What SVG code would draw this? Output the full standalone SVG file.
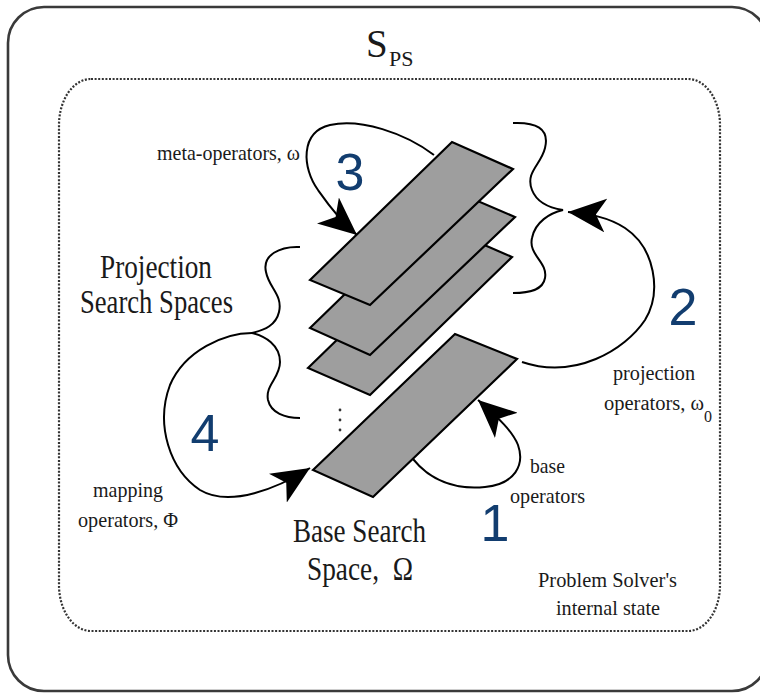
<svg xmlns="http://www.w3.org/2000/svg" width="760" height="694" viewBox="0 0 760 694">
  <defs>
    <style>
      .frame { fill: #ffffff; stroke: #3a3a3a; stroke-width: 2.6; }
      .state { fill: none; stroke: #333333; stroke-width: 2.2; stroke-dasharray: 2 1.6; }
      .plane { fill: #9e9e9e; stroke: #000000; stroke-width: 2.2; stroke-linejoin: miter; }
      .brace { fill: none; stroke: #000000; stroke-width: 2; }
      .arc { fill: none; stroke: #000000; stroke-width: 2; }
      .serif { font-family: "Liberation Serif", "Times New Roman", serif; fill: #1a1a1a; }
      .big { font-size: 33px; }
      .small { font-size: 22px; }
      .num { font-family: "Liberation Sans", Arial, sans-serif; font-size: 52px; fill: #123d6f; text-anchor: middle; }
    </style>
    <marker id="head" markerUnits="userSpaceOnUse" viewBox="0 0 38 34" refX="38" refY="17" markerWidth="38" markerHeight="34" orient="auto">
      <path d="M0,0 L38,17 L0,34 L10,17 Z" fill="#000000"/>
    </marker>
  </defs>

  <!-- outer boundary of the solver -->
  <g id="solver-frame">
    <rect class="frame" x="8" y="7" width="760" height="684" rx="36" ry="36"/>
    <text class="serif" x="366" y="57" font-size="39">S<tspan x="389" y="66" font-size="22">PS</tspan></text>
  </g>

  <!-- dotted internal state region -->
  <g id="internal-state">
    <rect class="state" x="59" y="79" width="661" height="552" rx="32" ry="46"/>
    <text class="serif small" x="538" y="587" textLength="139" lengthAdjust="spacingAndGlyphs">Problem Solver's</text>
    <text class="serif small" x="556" y="615" textLength="104" lengthAdjust="spacingAndGlyphs">internal state</text>
  </g>

  <!-- stacked projection search spaces -->
  <g id="projection-space-3">
    <polygon class="plane" points="308,368 450,230 512,257 370,395"/>
  </g>
  <g id="projection-space-2">
    <polygon class="plane" points="310,328 452,190 515,217 370,355"/>
  </g>
  <g id="projection-space-1">
    <polygon class="plane" points="310,280 452,142 513,169 370,305"/>
  </g>

  <!-- base search space -->
  <g id="base-space">
    <polygon class="plane" points="313,470 455,334 517,359 373,497"/>
    <circle cx="340" cy="410" r="1.4" fill="#333"/>
    <circle cx="340" cy="420" r="1.4" fill="#333"/>
    <circle cx="340" cy="430" r="1.4" fill="#333"/>
    <text class="serif big" x="293" y="542" textLength="133" lengthAdjust="spacingAndGlyphs">Base Search</text>
    <text class="serif big" x="307" y="580" xml:space="preserve" textLength="106" lengthAdjust="spacingAndGlyphs">Space,  Ω</text>
  </g>

  <!-- brace grouping the projection spaces (left) -->
  <g id="projection-brace">
    <path class="brace" d="M300,247 C280,246 262,255 266,272 C269,288 283,295 279,312 C276,325 265,330 252,333 C265,336 280,345 280,362 C280,378 265,385 268,400 C271,413 285,418 300,418"/>
    <text class="serif big" x="100" y="278" textLength="112" lengthAdjust="spacingAndGlyphs">Projection</text>
    <text class="serif big" x="80" y="313" textLength="153" lengthAdjust="spacingAndGlyphs">Search Spaces</text>
  </g>

  <!-- brace grouping the projection spaces (right) -->
  <g id="projection-brace-right">
    <path class="brace" d="M513,123 C535,122 550,128 545,148 C541,165 525,172 532,190 C537,203 550,208 563,210 C550,213 535,222 532,238 C528,255 548,262 545,278 C543,290 530,293 513,293"/>
  </g>

  <!-- operator arcs -->
  <g id="connectors">
    <path class="arc" marker-end="url(#head)" d="M413,459 C430,480 455,490 485,487 C515,484 525,465 518,445 C512,430 497,417 478,400"/>
    <path class="arc" marker-end="url(#head)" d="M522,362 C575,380 625,350 645,320 C662,292 655,248 625,228 C608,217 590,214 568,212"/>
    <path class="arc" marker-end="url(#head)" d="M434,155 C405,133 360,118 330,125 C300,132 302,168 318,190 C325,200 338,219 357,235"/>
    <path class="arc" marker-end="url(#head)" d="M252,333 C225,333 185,350 170,385 C155,425 170,470 200,490 C230,508 278,488 310,468"/>
  </g>

  <!-- operator labels -->
  <g id="labels">
    <text class="serif small" x="157" y="160" textLength="143" lengthAdjust="spacingAndGlyphs">meta-operators, ω</text>
    <text class="serif small" x="613" y="380" textLength="82" lengthAdjust="spacingAndGlyphs">projection</text>
    <text class="serif" x="604" y="410" font-size="20.5">operators, ω<tspan dy="12" font-size="16">0</tspan></text>
    <text class="serif small" x="530" y="473" textLength="35" lengthAdjust="spacingAndGlyphs">base</text>
    <text class="serif small" x="510" y="503" textLength="75" lengthAdjust="spacingAndGlyphs">operators</text>
    <text class="serif small" x="93" y="497" textLength="70" lengthAdjust="spacingAndGlyphs">mapping</text>
    <text class="serif small" x="78" y="527" textLength="100" lengthAdjust="spacingAndGlyphs">operators, Φ</text>
  </g>

  <!-- step numbers -->
  <g id="steps">
    <text class="num" x="495" y="541">1</text>
    <text class="num" x="683" y="325">2</text>
    <text class="num" x="350" y="190">3</text>
    <text class="num" x="205" y="451">4</text>
  </g>
</svg>
